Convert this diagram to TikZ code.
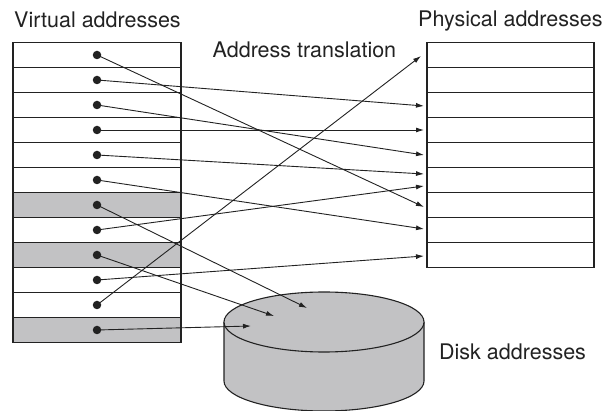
\documentclass[tikz,border=0pt]{standalone}
\usepackage{fontspec}
\setmainfont{TeX Gyre Heros}
\usetikzlibrary{arrows.meta}
\definecolor{cpage}{HTML}{C2C2C4}
\definecolor{cink}{HTML}{222222}

\begin{document}
\begin{tikzpicture}[x=1pt, y=-1pt, >={Latex[length=8pt,width=5pt]},
                    font=\fontsize{21.5}{25}\selectfont, color=cink,
                    map/.style={->, line width=0.9pt},
                    dot/.style={circle, fill=cink, inner sep=0pt, minimum size=8.5pt}]
  \useasboundingbox (0,0) rectangle (603,411);
  \def\h{25}      % row height
  \def\yt{42.5}   % top of both tables
  \def\vl{13}  \def\vr{181}   % virtual pages
  \def\pl{427} \def\pr{594}   % page frames
  \def\xt{424}    % arrow tips at the frames
  % labels
  \node[anchor=base west, inner sep=0pt] (vlabel) at (14,27.5) {Virtual addresses};
  \node[anchor=base west, inner sep=0pt] (tlabel) at (212.5,57.5) {Address translation};
  \node[anchor=base west, inner sep=0pt] (plabel) at (418,26.5) {Physical addresses};
  \node[anchor=base west, inner sep=0pt] (dlabel) at (439,359.5) {Disk addresses};
  % virtual address space, pages on disk shaded
  \foreach \i in {7,9,12}
    \fill[cpage] (\vl,{\yt+(\i-1)*\h}) rectangle (\vr,{\yt+\i*\h});
  \foreach \i in {1,...,12}
    \draw[line width=1.1pt] (\vl,{\yt+(\i-1)*\h}) rectangle (\vr,{\yt+\i*\h});
  % physical memory
  \foreach \i in {1,...,9}
    \draw[line width=1.1pt] (\pl,{\yt+(\i-1)*\h}) rectangle (\pr,{\yt+\i*\h});
  % disk
  \fill[cpage] (224,322) -- (224,381) arc[start angle=180, end angle=0, x radius=100, y radius=30]
    -- (424,322) -- cycle;
  \draw[line width=1.1pt] (224,322) -- (224,381) arc[start angle=180, end angle=0, x radius=100, y radius=30]
    -- (424,322);
  \draw[line width=1.1pt, fill=cpage] (324,322) ellipse[x radius=100, y radius=30];
  % targets
  \coordinate (p1) at (421,56);
  \coordinate (p2) at (\xt,106);
  \coordinate (p3) at (\xt,130);
  \coordinate (p4) at (\xt,155);
  \coordinate (p5) at (\xt,174);
  \coordinate (p6) at (\xt,186);
  \coordinate (p7) at (\xt,207);
  \coordinate (p8) at (\xt,229);
  \coordinate (p9) at (\xt,256);
  \coordinate (d1) at (307,308);
  \coordinate (d2) at (274,316);
  \coordinate (d3) at (251,326);
  % page table
  \foreach \i in {1,...,12}
    \coordinate (v\i) at (97,{\yt+(\i-0.5)*\h});
  \foreach \s/\t in {1/p7, 2/p2, 3/p4, 4/p3, 5/p5, 6/p8, 7/d1, 8/p6, 9/d2, 10/p9, 11/p1, 12/d3}
    \draw[map] (v\s) -- (\t);
  \foreach \i in {1,...,12}
    \node[dot] at (v\i) {};
\end{tikzpicture}
\end{document}
